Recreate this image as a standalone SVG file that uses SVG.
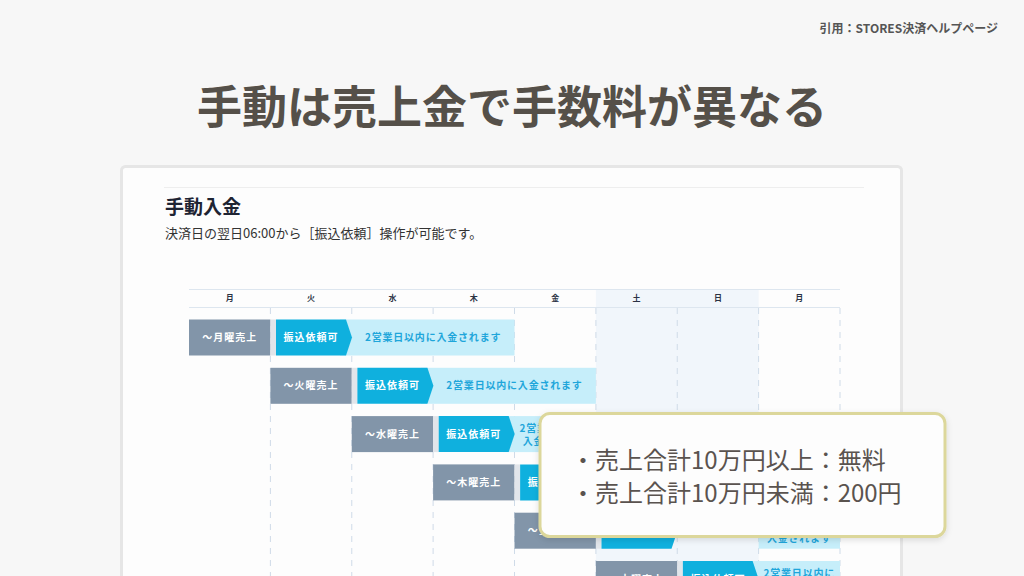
<svg xmlns="http://www.w3.org/2000/svg" width="1024" height="576" viewBox="0 0 1024 576">
  <defs>
    <style>
      .jp { font-family: "Noto Sans CJK JP", "Noto Sans", sans-serif; }
      .hd { font-size: 8px; font-weight: 700; fill: #2b3344; text-anchor: middle; }
      .gray { fill: #8295a9; }
      .blue { fill: #0fb0de; }
      .lb { fill: #c6eefa; }
      .tw { font-size: 10px; font-weight: 700; fill: #ffffff; text-anchor: middle; letter-spacing: 1px; }
      .tb { font-size: 10px; font-weight: 700; fill: #1fa6da; text-anchor: middle; letter-spacing: 0.8px; }
      .dash { stroke: #cfdbe8; stroke-width: 1; stroke-dasharray: 6 6; fill: none; }
      .gap { fill: #e1e5ea; }
    </style>
    <filter id="sh" x="-5%" y="-10%" width="110%" height="130%">
      <feDropShadow dx="0" dy="2" stdDeviation="3" flood-color="#000" flood-opacity="0.12"/>
    </filter>
  </defs>

  <rect x="0" y="0" width="1024" height="576" fill="#f7f7f7"/>

  <g id="citation">
    <text class="jp" x="998" y="33" font-size="12" font-weight="700" fill="#555555" text-anchor="end">引用：STORES決済ヘルプページ</text>
  </g>

  <g id="title">
    <text class="jp" x="512" y="124" font-size="45" font-weight="700" fill="#555049" text-anchor="middle">手動は売上金で手数料が異なる</text>
  </g>

  <g id="card">
    <rect x="121.5" y="166.5" width="780" height="420" rx="4" fill="#fdfdfd" stroke="#e6e6e6" stroke-width="3"/>
    <line x1="164" y1="187.5" x2="864" y2="187.5" stroke="#eeeeee" stroke-width="1"/>
    <text class="jp" x="165" y="214" font-size="19" font-weight="700" fill="#1e2433">手動入金</text>
    <text class="jp" x="165" y="238" font-size="13" fill="#333333">決済日の翌日06:00から［振込依頼］操作が可能です。</text>
  </g>

  <g id="calendar">
    <rect x="595.9" y="290" width="162.7" height="290" fill="#f1f6fb"/>
    <line x1="189" y1="289.5" x2="840" y2="289.5" stroke="#dde6ef" stroke-width="1"/>
    <line x1="189" y1="307.5" x2="840" y2="307.5" stroke="#dde6ef" stroke-width="1"/>
    <text class="jp hd" x="229.7" y="301">月</text>
    <text class="jp hd" x="311.1" y="301">火</text>
    <text class="jp hd" x="392.4" y="301">水</text>
    <text class="jp hd" x="473.8" y="301">木</text>
    <text class="jp hd" x="555.2" y="301">金</text>
    <text class="jp hd" x="636.6" y="301">土</text>
    <text class="jp hd" x="717.9" y="301">日</text>
    <text class="jp hd" x="799.3" y="301">月</text>
    <path class="dash" d="M270.4 308V576M351.75 308V576M433.1 308V576M514.5 308V576M595.9 308V576M677.25 308V576M758.6 308V576M840 308V576"/>
  </g>

  <g id="connectors"></g>

  <g id="row-mon">
    <rect class="lb" x="340" y="319.5" width="174.5" height="36"/>
    <rect class="gray" x="189" y="319.5" width="81.4" height="36"/>
    <rect class="gap" x="270.4" y="319.5" width="5.6" height="36"/>
    <polygon class="blue" points="276,319.5 346,319.5 352,337.5 346,355.5 276,355.5"/>
    <text class="jp tw" x="229.7" y="341">～月曜売上</text>
    <text class="jp tw" x="311" y="341">振込依頼可</text>
    <text class="jp tb" x="433.1" y="341">2営業日以内に入金されます</text>
  </g>

  <g id="row-tue">
    <rect class="lb" x="421" y="367.8" width="174.9" height="36"/>
    <rect class="gray" x="270.4" y="367.8" width="81.35" height="36"/>
    <rect class="gap" x="351.75" y="367.8" width="5.6" height="36"/>
    <polygon class="blue" points="357.4,367.8 427.4,367.8 433.4,385.8 427.4,403.8 357.4,403.8"/>
    <text class="jp tw" x="311.1" y="389.3">～火曜売上</text>
    <text class="jp tw" x="392.4" y="389.3">振込依頼可</text>
    <text class="jp tb" x="514.5" y="389.3">2営業日以内に入金されます</text>
  </g>

  <g id="row-wed">
    <rect class="lb" x="503" y="416.1" width="92.9" height="36"/>
    <rect class="gray" x="351.75" y="416.1" width="81.35" height="36"/>
    <rect class="gap" x="433.1" y="416.1" width="5.6" height="36"/>
    <polygon class="blue" points="438.7,416.1 508.7,416.1 514.7,434.1 508.7,452.1 438.7,452.1"/>
    <text class="jp tw" x="392.4" y="437.6">～水曜売上</text>
    <text class="jp tw" x="473.8" y="437.6">振込依頼可</text>
    <text class="jp tb" x="555.2" y="432">2営業日以内に</text>
    <text class="jp tb" x="555.2" y="445">入金されます</text>
  </g>

  <g id="row-thu">
    <rect class="lb" x="758.6" y="464.4" width="81.4" height="36"/>
    <rect class="gray" x="433.1" y="464.4" width="81.4" height="36"/>
    <rect class="gap" x="514.5" y="464.4" width="5.6" height="36"/>
    <polygon class="blue" points="520.1,464.4 590.1,464.4 596.1,482.4 590.1,500.4 520.1,500.4"/>
    <text class="jp tw" x="473.8" y="485.9">～木曜売上</text>
    <text class="jp tw" x="555.2" y="485.9">振込依頼可</text>
  </g>

  <g id="row-fri">
    <rect class="lb" x="758.6" y="512.7" width="81.4" height="36"/>
    <rect class="gray" x="514.5" y="512.7" width="81.4" height="36"/>
    <rect class="gap" x="595.9" y="512.7" width="5.6" height="36"/>
    <polygon class="blue" points="601.5,512.7 671.5,512.7 677.5,530.7 671.5,548.7 601.5,548.7"/>
    <text class="jp tw" x="555.2" y="534.2">～金曜売上</text>
    <text class="jp tw" x="636.6" y="534.2">振込依頼可</text>
    <text class="jp tb" x="799.3" y="528.6">2営業日以内に</text>
    <text class="jp tb" x="799.3" y="541.6">入金されます</text>
  </g>

  <g id="row-sat">
    <rect class="lb" x="752" y="561" width="88" height="36"/>
    <rect class="gray" x="595.9" y="561" width="81.35" height="36"/>
    <rect class="gap" x="677.25" y="561" width="5.6" height="36"/>
    <polygon class="blue" points="682.9,561 752.6,561 758.6,579 752.6,597 682.9,597"/>
    <text class="jp tw" x="636.6" y="582.5">～土曜売上</text>
    <text class="jp tw" x="717.9" y="582.5">振込依頼可</text>
    <text class="jp tb" x="799.3" y="577">2営業日以内に</text>
  </g>

  <g id="fee-note">
    <rect x="540" y="413.5" width="405" height="123" rx="10" fill="#fdfdfd" stroke="#dcd79b" stroke-width="3" filter="url(#sh)"/>
    <text class="jp" x="571" y="469" font-size="24" fill="#5a534f">・売上合計10万円以上：無料</text>
    <text class="jp" x="571" y="502" font-size="24" fill="#5a534f">・売上合計10万円未満：200円</text>
  </g>
</svg>
